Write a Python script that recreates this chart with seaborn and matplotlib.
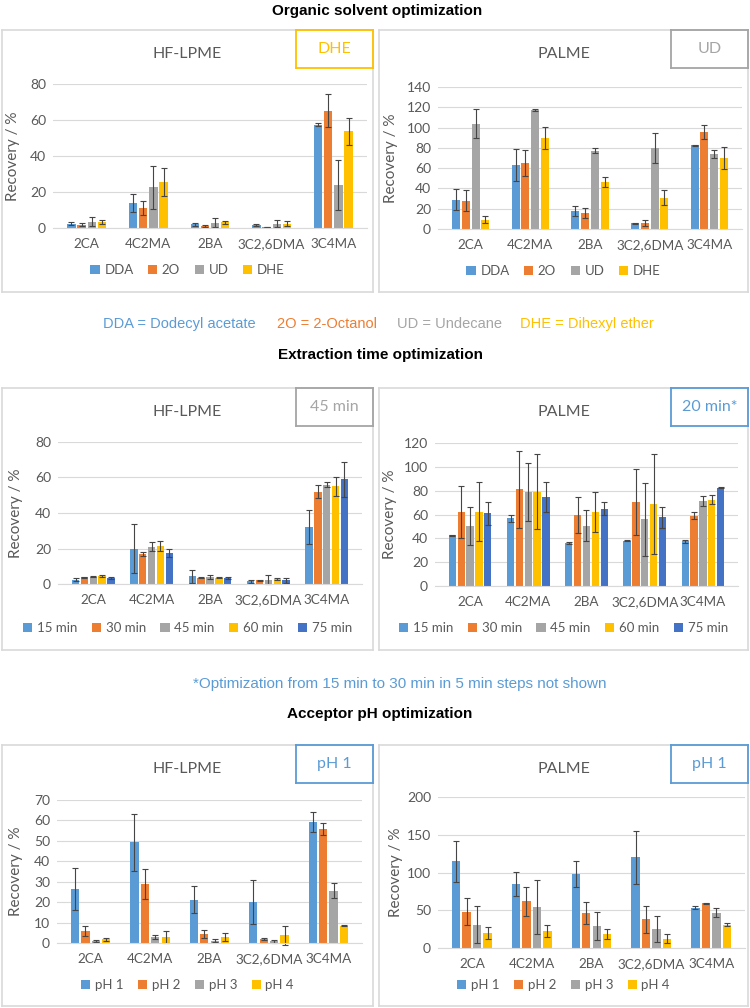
import numpy as np
import pandas as pd
import seaborn as sns
import matplotlib.pyplot as plt

W, H = 750, 1008

compounds = ['2CA', '4C2MA', '2BA', '3C2,6DMA', '3C4MA']

# organic solvent optimization
solvents = ['DDA', '2O', 'UD', 'DHE']
solvent_colors = ['#5B9BD5', '#ED7D31', '#A5A5A5', '#FFC000']
hf_solvent_mean = [
    [2.5, 14, 2, 1.8, 57.4],
    [1.8, 11, 1, 0.5, 65.2],
    [3.5, 22.6, 3, 2.5, 24],
    [3.5, 25.5, 3.2, 2.5, 53.7],
]
hf_solvent_err = [
    [1, 5, 0.8, 0.5, 1],
    [0.8, 4, 0.5, 0.2, 9],
    [2.5, 12, 2.5, 2.2, 14],
    [1.2, 8, 0.8, 1.2, 7.4],
]
palme_solvent_mean = [
    [29, 63, 18, 5.5, 82.5],
    [28, 65, 16, 6, 96],
    [104, 117.5, 77, 80, 74],
    [9, 90, 46, 31, 70],
]
palme_solvent_err = [
    [10, 16, 5, 0.3, 0.3],
    [10, 13, 5, 3, 7],
    [14, 1, 2.5, 15, 4],
    [3.5, 11, 5, 7, 11],
]

# extraction time optimization
times = ['15 min', '30 min', '45 min', '60 min', '75 min']
time_colors = ['#5B9BD5', '#ED7D31', '#A5A5A5', '#FFC000', '#4472C4']
hf_time_mean = [
    [2.5, 20, 4.3, 1.5, 32],
    [3.7, 17, 3.6, 2, 52],
    [4.2, 21, 3.8, 2.5, 56],
    [4.3, 21.5, 3.6, 3, 55],
    [3.5, 17.5, 3.3, 2, 59],
]
hf_time_err = [
    [1, 14, 3.5, 0.7, 9.5],
    [0.3, 1, 0.3, 0.5, 3.5],
    [0.5, 2.5, 1, 2.5, 1.5],
    [0.5, 3, 0.3, 0.5, 5.5],
    [0.5, 2.5, 0.5, 1.5, 10],
]
palme_time_mean = [
    [42.5, 57, 36, 38, 37.5],
    [62, 81, 59.5, 70.5, 59],
    [50.5, 79, 50.5, 56, 71.5],
    [62.5, 79, 62, 69, 72.5],
    [61, 74.5, 65, 57.5, 82.5],
]
palme_time_err = [
    [0.3, 3, 1, 0.3, 1],
    [22, 32, 15, 28, 3],
    [16, 24.5, 13, 30.5, 4],
    [25, 31.5, 17, 42, 3.5],
    [9.5, 12.5, 5.5, 8.5, 0.3],
]

# acceptor pH optimization
phs = ['pH 1', 'pH 2', 'pH 3', 'pH 4']
ph_colors = ['#5B9BD5', '#ED7D31', '#A5A5A5', '#FFC000']
hf_ph_mean = [
    [26.4, 49.2, 21.2, 20, 59.1],
    [6, 28.8, 4.5, 2, 55.9],
    [1, 3, 1.2, 0.8, 25.6],
    [1.8, 3, 3, 3.8, 8.5],
]
hf_ph_err = [
    [10.3, 13.8, 6.7, 10.9, 4.9],
    [2.5, 7.3, 2, 0.3, 3],
    [0.7, 1, 0.6, 0.7, 3.7],
    [0.7, 2.8, 2, 4.6, 0.3],
]
palme_ph_mean = [
    [115, 85, 98, 120, 53],
    [48, 62, 46, 38, 59],
    [31, 54, 29, 25, 47],
    [20, 22, 19, 12, 31],
]
palme_ph_err = [
    [27, 16, 17, 35, 2],
    [18, 19, 14.5, 18, 0.5],
    [24, 36, 18.5, 17, 6.5],
    [7.5, 8, 6.5, 6, 2.5],
]

plt.rcParams['font.family'] = ['Lato', 'DejaVu Sans']
GRAY = '#595959'
LINE = '#D9D9D9'

fig = plt.figure(figsize=(W / 100, H / 100), dpi=100)


def rect(x0, y0, x1, y1):
    return [x0 / W, 1 - y1 / H, (x1 - x0) / W, (y1 - y0) / H]


def panel(frame, plot, title, tag, tag_color, levels, colors, means, errs,
          yticks, width, gap, ylab_x, leg_dy):
    fx0, fy0, fx1, fy1 = frame
    fr = fig.add_axes(rect(*frame))
    fr.set_xticks([])
    fr.set_yticks([])
    for s in fr.spines.values():
        s.set_color(LINE)
        s.set_linewidth(1.2)
    fig.text((fx0 + fx1) / 2 / W, 1 - (fy0 + 24) / H, title, ha='center',
             va='center', fontsize=11.5, color=GRAY)

    # tag box in top right corner
    tb = fig.add_axes(rect(fx1 - 77, fy0, fx1, fy0 + 38))
    tb.set_xticks([])
    tb.set_yticks([])
    tb.patch.set_alpha(0)
    for s in tb.spines.values():
        s.set_color(tag_color)
        s.set_linewidth(1.3)
    tb.text(0.5, 0.5, tag, ha='center', va='center', fontsize=11.5,
            color=tag_color, transform=tb.transAxes)

    df = pd.DataFrame({
        'compound': np.tile(compounds, len(levels)),
        'level': np.repeat(levels, len(compounds)),
        'value': np.concatenate(means),
    })
    ax = fig.add_axes(rect(*plot))
    ax.patch.set_alpha(0)
    sns.barplot(data=df, x='compound', y='value', hue='level',
                hue_order=levels, palette=colors, width=width, gap=gap,
                errorbar=None, saturation=1, legend=False, ax=ax)
    bars = list(ax.containers)
    for cont, err in zip(bars, errs):
        xs = [b.get_x() + b.get_width() / 2 for b in cont]
        ys = [b.get_height() for b in cont]
        ax.errorbar(xs, ys, yerr=err, fmt='none', ecolor='#454545',
                    elinewidth=0.8, capsize=2.3, capthick=0.8, clip_on=False)

    ax.set_ylim(yticks[0], yticks[-1])
    ax.set_yticks(yticks)
    ax.grid(axis='y', color=LINE, lw=0.8)
    ax.set_axisbelow(True)
    for side in ['top', 'right', 'left']:
        ax.spines[side].set_visible(False)
    ax.spines['bottom'].set_color(LINE)
    ax.tick_params(length=0, labelsize=10, labelcolor=GRAY)
    ax.tick_params(axis='x', pad=7, labelsize=9.7)
    ax.tick_params(axis='y', pad=5)
    ax.set_xlabel('')
    ax.set_ylabel('Recovery / %', fontsize=11, color=GRAY)
    px0, py0, px1, py1 = plot
    ax.yaxis.set_label_coords((ylab_x - px0) / (px1 - px0), 0.5)

    lx = ((fx0 + fx1) / 2 - px0) / (px1 - px0)
    ly = -leg_dy / (py1 - py0)
    ax.legend(bars, levels, loc='center', bbox_to_anchor=(lx, ly),
              ncol=len(levels), frameon=False, fontsize=9.5,
              labelcolor=GRAY, handlelength=0.7, handleheight=0.7,
              handletextpad=0.35, columnspacing=1.1)
    return ax


# row 1
panel((2, 30, 373, 292), (53, 84, 367, 228), 'HF-LPME', 'DHE', '#FFC000',
      solvents, solvent_colors, hf_solvent_mean, hf_solvent_err,
      [0, 20, 40, 60, 80], 0.66, 0.18, 20, 42)
panel((379, 30, 748, 292), (438, 87, 742, 229), 'PALME', 'UD', '#A5A5A5',
      solvents, solvent_colors, palme_solvent_mean, palme_solvent_err,
      [0, 20, 40, 60, 80, 100, 120, 140], 0.66, 0.18, 398, 42)

# row 2
panel((2, 388, 373, 650), (58, 442, 362, 584), 'HF-LPME', '45 min', '#A5A5A5',
      times, time_colors, hf_time_mean, hf_time_err,
      [0, 20, 40, 60, 80], 0.76, 0.17, 23, 44)
panel((379, 388, 748, 650), (435, 443, 738, 586), 'PALME', '20 min*', '#5B9BD5',
      times, time_colors, palme_time_mean, palme_time_err,
      [0, 20, 40, 60, 80, 100, 120], 0.76, 0.17, 397, 42)

# row 3
panel((2, 745, 373, 1006), (57, 800, 362, 943), 'HF-LPME', 'pH 1', '#5B9BD5',
      phs, ph_colors, hf_ph_mean, hf_ph_err,
      [0, 10, 20, 30, 40, 50, 60, 70], 0.7, 0.2, 23, 42)
panel((379, 745, 748, 1006), (438, 797, 745, 948), 'PALME', 'pH 1', '#5B9BD5',
      phs, ph_colors, palme_ph_mean, palme_ph_err,
      [0, 50, 100, 150, 200], 0.7, 0.2, 403, 37)

# section headings and notes
head = dict(ha='center', va='center', fontsize=11, fontweight='bold',
            family='Liberation Sans', color='black')
fig.text(377 / W, 1 - 11 / H, 'Organic solvent optimization', **head)
fig.text(380 / W, 1 - 355 / H, 'Extraction time optimization', **head)
fig.text(380 / W, 1 - 714 / H, 'Acceptor pH optimization', **head)

key_x = [103, 277, 397, 520]
key_txt = ['DDA = Dodecyl acetate', '2O = 2-Octanol', 'UD = Undecane',
           'DHE = Dihexyl ether']
for x, t, c in zip(key_x, key_txt, solvent_colors):
    fig.text(x / W, 1 - 324 / H, t, ha='left', va='center', fontsize=10.5,
             family='Liberation Sans', color=c)

fig.text(400 / W, 1 - 684 / H,
         '*Optimization from 15 min to 30 min in 5 min steps not shown',
         ha='center', va='center', fontsize=11, family='Liberation Sans',
         color='#5B9BD5')

fig.savefig('out.png', dpi=100)
